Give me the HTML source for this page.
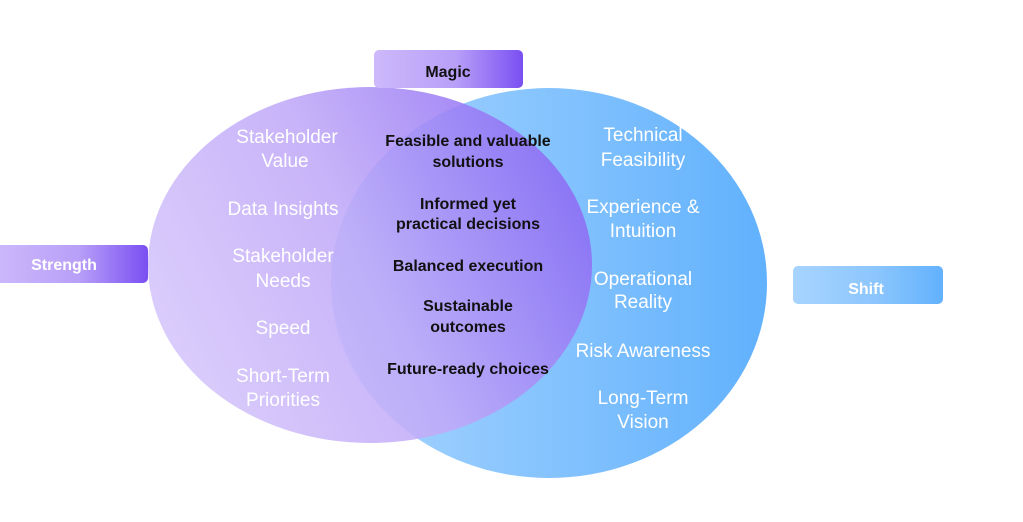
<!DOCTYPE html>
<html><head><meta charset="utf-8"><style>html,body{margin:0;padding:0;background:#fff;}svg{display:block}</style></head>
<body>
<svg width="1023" height="522" viewBox="0 0 1023 522" xmlns="http://www.w3.org/2000/svg" font-family="'Liberation Sans', sans-serif">
<defs>
<linearGradient id="gb" x1="0" y1="0" x2="1" y2="0">
<stop offset="0" stop-color="#a9d5fe"/><stop offset="1" stop-color="#61b1fd"/></linearGradient>
<linearGradient id="gp" x1="0" y1="0.7" x2="1" y2="0.3">
<stop offset="0" stop-color="#d6c7fb"/><stop offset="0.5" stop-color="#c0a9f8"/><stop offset="1" stop-color="#8a68f3"/></linearGradient>
<linearGradient id="lp" x1="0" y1="0" x2="1" y2="0">
<stop offset="0" stop-color="#cdb9fa"/><stop offset="0.55" stop-color="#b89ff8"/><stop offset="1" stop-color="#7a4ff2"/></linearGradient>
<linearGradient id="lb" x1="0" y1="0" x2="1" y2="0">
<stop offset="0" stop-color="#a8d4fe"/><stop offset="0.55" stop-color="#8cc6fd"/><stop offset="1" stop-color="#62b1fd"/></linearGradient>
</defs>
<ellipse cx="549" cy="283" rx="218" ry="195" fill="url(#gb)"/>
<ellipse cx="370" cy="265" rx="222" ry="178" fill="url(#gp)" opacity="0.88"/>
<rect x="374" y="50" width="149" height="38" rx="5" fill="url(#lp)"/>
<text x="448" y="77" font-size="16" font-weight="bold" text-anchor="middle" fill="#111">Magic</text>
<rect x="-6" y="245" width="154" height="38" rx="5" fill="url(#lp)"/>
<text x="64" y="270" font-size="16" font-weight="bold" text-anchor="middle" fill="#fff">Strength</text>
<rect x="793" y="266" width="150" height="38" rx="5" fill="url(#lb)"/>
<text x="866" y="294" font-size="16" font-weight="bold" text-anchor="middle" fill="#fff">Shift</text>
<g font-size="19" fill="#fff" text-anchor="middle">
<text x="287" y="143">Stakeholder</text><text x="285" y="167">Value</text>
<text x="283" y="215">Data Insights</text>
<text x="283" y="262">Stakeholder</text><text x="283" y="287">Needs</text>
<text x="283" y="334">Speed</text>
<text x="283" y="382">Short-Term</text><text x="283" y="406">Priorities</text>
<text x="643" y="141">Technical</text><text x="643" y="166">Feasibility</text>
<text x="643" y="213">Experience &amp;</text><text x="643" y="237">Intuition</text>
<text x="643" y="285">Operational</text><text x="643" y="308">Reality</text>
<text x="643" y="357">Risk Awareness</text>
<text x="643" y="404">Long-Term</text><text x="643" y="428">Vision</text>
</g>
<g font-size="16" font-weight="bold" fill="#111" text-anchor="middle">
<text x="468" y="146">Feasible and valuable</text><text x="468" y="167">solutions</text>
<text x="468" y="209">Informed yet</text><text x="468" y="229">practical decisions</text>
<text x="468" y="271">Balanced execution</text>
<text x="468" y="311">Sustainable</text><text x="468" y="332">outcomes</text>
<text x="468" y="374">Future-ready choices</text>
</g>
</svg>
</body></html>
